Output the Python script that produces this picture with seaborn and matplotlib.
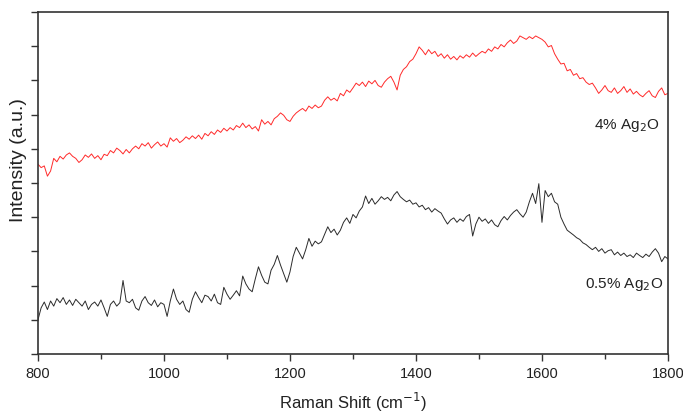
import numpy as np
import pandas as pd
import matplotlib
matplotlib.use('Agg')
import matplotlib.pyplot as plt
import seaborn as sns

# Raman shift positions (cm-1), one reading every 5 cm-1
shift = np.arange(800, 1801, 5)

# 4% Ag2O spectrum (red, upper trace), rows of 50 cm-1
ag2o_4 = [5.55, 5.45, 5.50, 5.20, 5.35, 5.72, 5.62, 5.78, 5.70, 5.82,
          5.88, 5.78, 5.72, 5.60, 5.68, 5.82, 5.75, 5.85, 5.72, 5.80,
          5.68, 5.84, 5.80, 5.95, 5.88, 6.02, 5.95, 5.85, 5.98, 5.88,
          6.00, 6.08, 6.00, 6.15, 6.08, 6.18, 6.02, 6.12, 6.20, 6.08,
          6.15, 6.05, 6.32, 6.22, 6.30, 6.18, 6.25, 6.35, 6.28, 6.38,
          6.30, 6.40, 6.28, 6.45, 6.38, 6.50, 6.42, 6.55, 6.48, 6.60,
          6.52, 6.62, 6.55, 6.68, 6.62, 6.75, 6.62, 6.70, 6.58, 6.65,
          6.52, 6.85, 6.72, 6.80, 6.70, 6.88, 6.95, 7.05, 6.98, 6.85,
          6.80, 6.95, 7.05, 7.12, 7.18, 7.10, 7.25, 7.18, 7.28, 7.20,
          7.25, 7.42, 7.52, 7.42, 7.48, 7.40, 7.62, 7.55, 7.72, 7.65,
          7.78, 7.92, 7.85, 7.95, 7.82, 7.98, 7.90, 8.00, 7.85, 7.80,
          7.95, 8.05, 8.12, 7.95, 7.72, 8.15, 8.32, 8.40, 8.55, 8.62,
          8.78, 8.98, 8.88, 8.75, 8.90, 8.78, 8.85, 8.70, 8.78, 8.65,
          8.75, 8.62, 8.70, 8.60, 8.72, 8.65, 8.75, 8.68, 8.80, 8.70,
          8.78, 8.85, 8.80, 8.92, 8.85, 8.98, 8.92, 9.05, 8.98, 9.10,
          9.18, 9.08, 9.15, 9.30, 9.25, 9.20, 9.28, 9.22, 9.30, 9.25,
          9.20, 9.12, 8.98, 9.02, 8.78, 8.62, 8.48, 8.50, 8.28, 8.32,
          8.15, 8.20, 8.05, 8.08, 7.95, 7.88, 7.92, 7.78, 7.62, 7.72,
          7.85, 7.70, 7.65, 7.78, 7.62, 7.70, 7.82, 7.65, 7.75, 7.60,
          7.68, 7.58, 7.52, 7.62, 7.70, 7.55, 7.50, 7.68, 7.78, 7.58,
          7.62]

# 0.5% Ag2O spectrum (black, lower trace), rows of 50 cm-1
ag2o_05 = [1.00, 1.35, 1.52, 1.30, 1.55, 1.40, 1.62, 1.50, 1.65, 1.45,
           1.58, 1.42, 1.60, 1.50, 1.40, 1.55, 1.30, 1.45, 1.52, 1.40,
           1.58, 1.35, 1.10, 1.45, 1.55, 1.40, 1.50, 2.15, 1.55, 1.50,
           1.60, 1.35, 1.28, 1.55, 1.68, 1.50, 1.42, 1.58, 1.38, 1.50,
           1.45, 1.10, 1.55, 1.90, 1.60, 1.45, 1.55, 1.30, 1.22, 1.60,
           1.82, 1.65, 1.50, 1.72, 1.68, 1.55, 1.75, 1.50, 1.45, 1.95,
           1.75, 1.60, 1.72, 1.85, 1.70, 2.28, 2.05, 1.90, 1.82, 2.20,
           2.55, 2.30, 2.10, 2.05, 2.45, 2.62, 2.88, 2.60, 2.35, 2.10,
           2.40, 2.85, 3.12, 2.95, 2.78, 3.05, 3.38, 3.15, 3.30, 3.22,
           3.28, 3.50, 3.72, 3.55, 3.65, 3.48, 3.62, 3.85, 3.98, 3.82,
           4.08, 3.98, 4.18, 4.30, 4.62, 4.40, 4.55, 4.38, 4.48, 4.60,
           4.52, 4.58, 4.48, 4.65, 4.75, 4.60, 4.52, 4.45, 4.50, 4.38,
           4.42, 4.30, 4.35, 4.22, 4.28, 4.15, 4.25, 4.18, 4.12, 3.95,
           3.80, 3.92, 3.98, 3.85, 3.95, 3.88, 4.02, 4.08, 3.45, 3.80,
           4.00, 3.88, 3.95, 3.82, 3.92, 3.78, 3.72, 3.90, 4.02, 3.92,
           4.05, 4.15, 4.22, 4.10, 4.00, 4.15, 4.45, 4.70, 4.40, 4.98,
           3.85, 4.78, 4.60, 4.70, 4.45, 4.38, 4.00, 3.80, 3.62, 3.55,
           3.48, 3.40, 3.35, 3.25, 3.20, 3.12, 3.05, 3.12, 3.00, 3.08,
           2.95, 3.02, 3.05, 2.90, 2.98, 2.88, 2.95, 2.85, 2.90, 2.82,
           2.95, 2.88, 2.82, 2.92, 2.85, 2.98, 3.08, 2.95, 2.70, 2.85,
           2.78]

df = pd.DataFrame({'shift': shift, 'high': ag2o_4, 'low': ag2o_05})

sns.set_style('ticks')
plt.rcParams['font.family'] = ['Liberation Sans', 'DejaVu Sans']

fig = plt.figure(figsize=(6.83, 4.14), dpi=100)
ax = fig.add_axes([0.0556, 0.1425, 0.9224, 0.8261])

sns.lineplot(data=df, x='shift', y='high', color='#ff2a2a', linewidth=0.7, ax=ax)
sns.lineplot(data=df, x='shift', y='low', color='#2b2b2b', linewidth=0.7, ax=ax)

ax.text(1787, 6.7, '4% Ag$_2$O', ha='right', va='center', fontsize=11, color='#222222')
ax.text(1792, 2.05, '0.5% Ag$_2$O', ha='right', va='center', fontsize=11, color='#222222')

ax.set_xlim(800, 1800)
ax.set_ylim(0, 10)
ax.set_xticks(range(800, 1801, 200))
ax.set_xticks(range(900, 1800, 200), minor=True)
ax.set_yticks(range(0, 11))
ax.set_yticklabels([])
ax.tick_params(axis='both', which='major', direction='out', length=5, width=1, color='#333333', labelsize=10.5, labelcolor='#222222')
ax.tick_params(axis='x', which='minor', direction='out', length=3.5, width=1, color='#333333')
for sp in ax.spines.values():
    sp.set_visible(True)
    sp.set_color('#333333')
    sp.set_linewidth(1.2)

ax.set_xlabel('Raman Shift (cm$^{-1}$)', fontsize=12, color='#222222', labelpad=7)
ax.set_ylabel('Intensity (a.u.)', fontsize=14, color='#222222')
ax.yaxis.set_label_coords(-0.018, 0.57)

fig.savefig('out.png', dpi=100)
